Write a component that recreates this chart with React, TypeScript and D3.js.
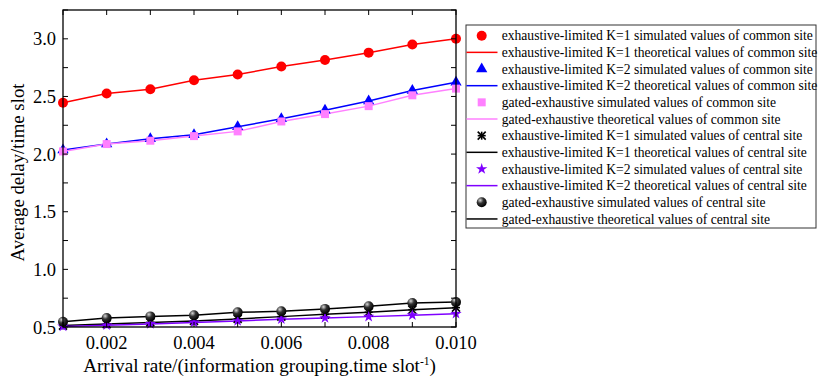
import * as d3 from 'd3'

// arrival rate (x), one point per 0.001
const rates = [0.001, 0.002, 0.003, 0.004, 0.005, 0.006, 0.007, 0.008, 0.009, 0.010]

// average delay / time slot
const k1Common = [2.445, 2.526, 2.563, 2.641, 2.69, 2.76, 2.817, 2.88, 2.95, 3.0]
const k2Common = [2.035, 2.087, 2.133, 2.168, 2.237, 2.306, 2.38, 2.46, 2.552, 2.624]
const gatedCommon = [2.023, 2.087, 2.116, 2.156, 2.197, 2.283, 2.347, 2.416, 2.51, 2.568]
const k1Central = [0.512, 0.525, 0.54, 0.553, 0.57, 0.59, 0.61, 0.628, 0.65, 0.668]
const k2Central = [0.505, 0.515, 0.527, 0.54, 0.552, 0.567, 0.578, 0.59, 0.603, 0.615]
const gatedCentral = [0.545, 0.578, 0.592, 0.602, 0.627, 0.636, 0.657, 0.68, 0.708, 0.717]

const xTicks = [0.002, 0.004, 0.006, 0.008, 0.010]
const yTicks = [0.5, 1.0, 1.5, 2.0, 2.5, 3.0]

const legendLabels = [
  'exhaustive-limited K=1 simulated values of common site',
  'exhaustive-limited K=1 theoretical values of common site',
  'exhaustive-limited K=2 simulated values of common site',
  'exhaustive-limited K=2 theoretical values of common site',
  'gated-exhaustive simulated values of common site',
  'gated-exhaustive theoretical values of common site',
  'exhaustive-limited K=1 simulated values of central site',
  'exhaustive-limited K=1 theoretical values of central site',
  'exhaustive-limited K=2 simulated values of central site',
  'exhaustive-limited K=2 theoretical values of central site',
  'gated-exhaustive simulated values of central site',
  'gated-exhaustive theoretical values of central site',
]

const SERIF = '"Liberation Serif", "Times New Roman", serif'

type Kind = 'circle' | 'triangle' | 'square' | 'asterisk' | 'star' | 'sphere'

const series: { values: number[]; color: string; kind: Kind }[] = [
  { values: k1Common, color: '#ff0000', kind: 'circle' },
  { values: k2Common, color: '#0000ff', kind: 'triangle' },
  { values: gatedCommon, color: '#ff80ff', kind: 'square' },
  { values: k1Central, color: '#000000', kind: 'asterisk' },
  { values: k2Central, color: '#7f00ff', kind: 'star' },
  { values: gatedCentral, color: '#000000', kind: 'sphere' },
]

function Marker({ kind, color, cx, cy }: { kind: Kind; color: string; cx: number; cy: number }) {
  const t = `translate(${cx},${cy})`
  if (kind === 'circle') return <circle cx={cx} cy={cy} r={5} fill={color} />
  if (kind === 'sphere') return <circle cx={cx} cy={cy} r={5} fill="url(#sphereGrad)" />
  if (kind === 'triangle') return <path transform={t} d={d3.symbol(d3.symbolTriangle, 55)()!} fill={color} />
  if (kind === 'square') return <path transform={t} d={d3.symbol(d3.symbolSquare, 64)()!} fill={color} />
  if (kind === 'star') return <path transform={t} d={d3.symbol(d3.symbolStar, 40)()!} fill={color} />
  // asterisk: X with a bar
  const s = 4
  return (
    <g transform={t} stroke={color} strokeWidth={1.6}>
      <line x1={-s} y1={-s} x2={s} y2={s} />
      <line x1={-s} y1={s} x2={s} y2={-s} />
      <line x1={-s} y1={0} x2={s} y2={0} />
      <line x1={0} y1={-s} x2={0} y2={s} />
    </g>
  )
}

export default function App() {
  const W = 825, H = 385
  const L = 63, R = 456, T = 10, B = 327

  const x = d3.scaleLinear().domain([0.001, 0.010]).range([L, R])
  const y = d3.scaleLinear().domain([0.5, 3.25]).range([B, T])

  const line = d3.line<number>()
    .x((d, i) => x(rates[i]))
    .y(d => y(d))

  const minorX = d3.range(1, 11).map(i => i / 1000)
  const minorY = d3.range(0, 12).map(i => 0.5 + i * 0.25)
  const tk = 5

  const legX = 466, legY = 25, legW = 350, legH = 203
  const rowY = (i: number) => 35.7 + i * 16.66

  return (
    <svg width={W} height={H} style={{ position: 'absolute', left: 0, top: 0, background: '#fff' }}>
      <defs>
        <radialGradient id="sphereGrad" cx="0.35" cy="0.3" r="0.7">
          <stop offset="0" stopColor="#d8d8d8" />
          <stop offset="0.45" stopColor="#333" />
          <stop offset="1" stopColor="#000" />
        </radialGradient>
      </defs>

      {/* lines */}
      {series.map((s, i) => (
        <path key={'l' + i} d={line(s.values)!} fill="none" stroke={s.color} strokeWidth={1.5} />
      ))}
      {/* markers */}
      {series.map((s, i) => (
        <g key={'m' + i}>
          {s.values.map((v, j) => (
            <Marker key={j} kind={s.kind} color={s.color} cx={x(rates[j])} cy={y(v)} />
          ))}
        </g>
      ))}

      {/* frame + inward ticks on all sides */}
      <rect x={L} y={T} width={R - L} height={B - T} fill="none" stroke="#000" strokeWidth={1.3} />
      {minorX.map(v => (
        <g key={'tx' + v} stroke="#000" strokeWidth={1}>
          <line x1={x(v)} x2={x(v)} y1={B} y2={B - tk} />
          <line x1={x(v)} x2={x(v)} y1={T} y2={T + tk} />
        </g>
      ))}
      {minorY.map(v => (
        <g key={'ty' + v} stroke="#000" strokeWidth={1}>
          <line x1={L} x2={L + tk} y1={y(v)} y2={y(v)} />
          <line x1={R} x2={R - tk} y1={y(v)} y2={y(v)} />
        </g>
      ))}

      {/* tick labels */}
      {xTicks.map(v => (
        <text key={'xl' + v} x={x(v)} y={349} textAnchor="middle" fontFamily={SERIF} fontSize={18.5} fill="#000">
          {d3.format('.3f')(v)}
        </text>
      ))}
      {yTicks.map(v => (
        <text key={'yl' + v} x={56} y={y(v) + 6.5} textAnchor="end" fontFamily={SERIF} fontSize={18.5} fill="#000">
          {d3.format('.1f')(v)}
        </text>
      ))}

      {/* axis titles */}
      <text x={(L + R) / 2} y={372} textAnchor="middle" fontFamily={SERIF} fontSize={19.2} fill="#000">
        Arrival rate/(information grouping.time slot<tspan fontSize={11.5} dy={-7}>-1</tspan><tspan dy={7}>)</tspan>
      </text>
      <text transform={`translate(24,${(T + B) / 2 + 4}) rotate(-90)`} textAnchor="middle" fontFamily={SERIF} fontSize={18.8} fill="#000">
        Average delay/time slot
      </text>

      {/* legend */}
      <rect x={legX} y={legY} width={legW} height={legH} fill="#fff" stroke="#333" strokeWidth={1} />
      {legendLabels.map((lab, i) => {
        const s = series[Math.floor(i / 2)]
        const cy = rowY(i)
        return (
          <g key={'lg' + i}>
            {i % 2 === 0
              ? <Marker kind={s.kind} color={s.color} cx={481.7} cy={cy} />
              : <line x1={466.5} x2={497.5} y1={cy} y2={cy} stroke={s.color} strokeWidth={1.5} />}
            <text x={501.7} y={cy + 4.7} fontFamily={SERIF} fontSize={13.6} fill="#000">{lab}</text>
          </g>
        )
      })}
    </svg>
  )
}
